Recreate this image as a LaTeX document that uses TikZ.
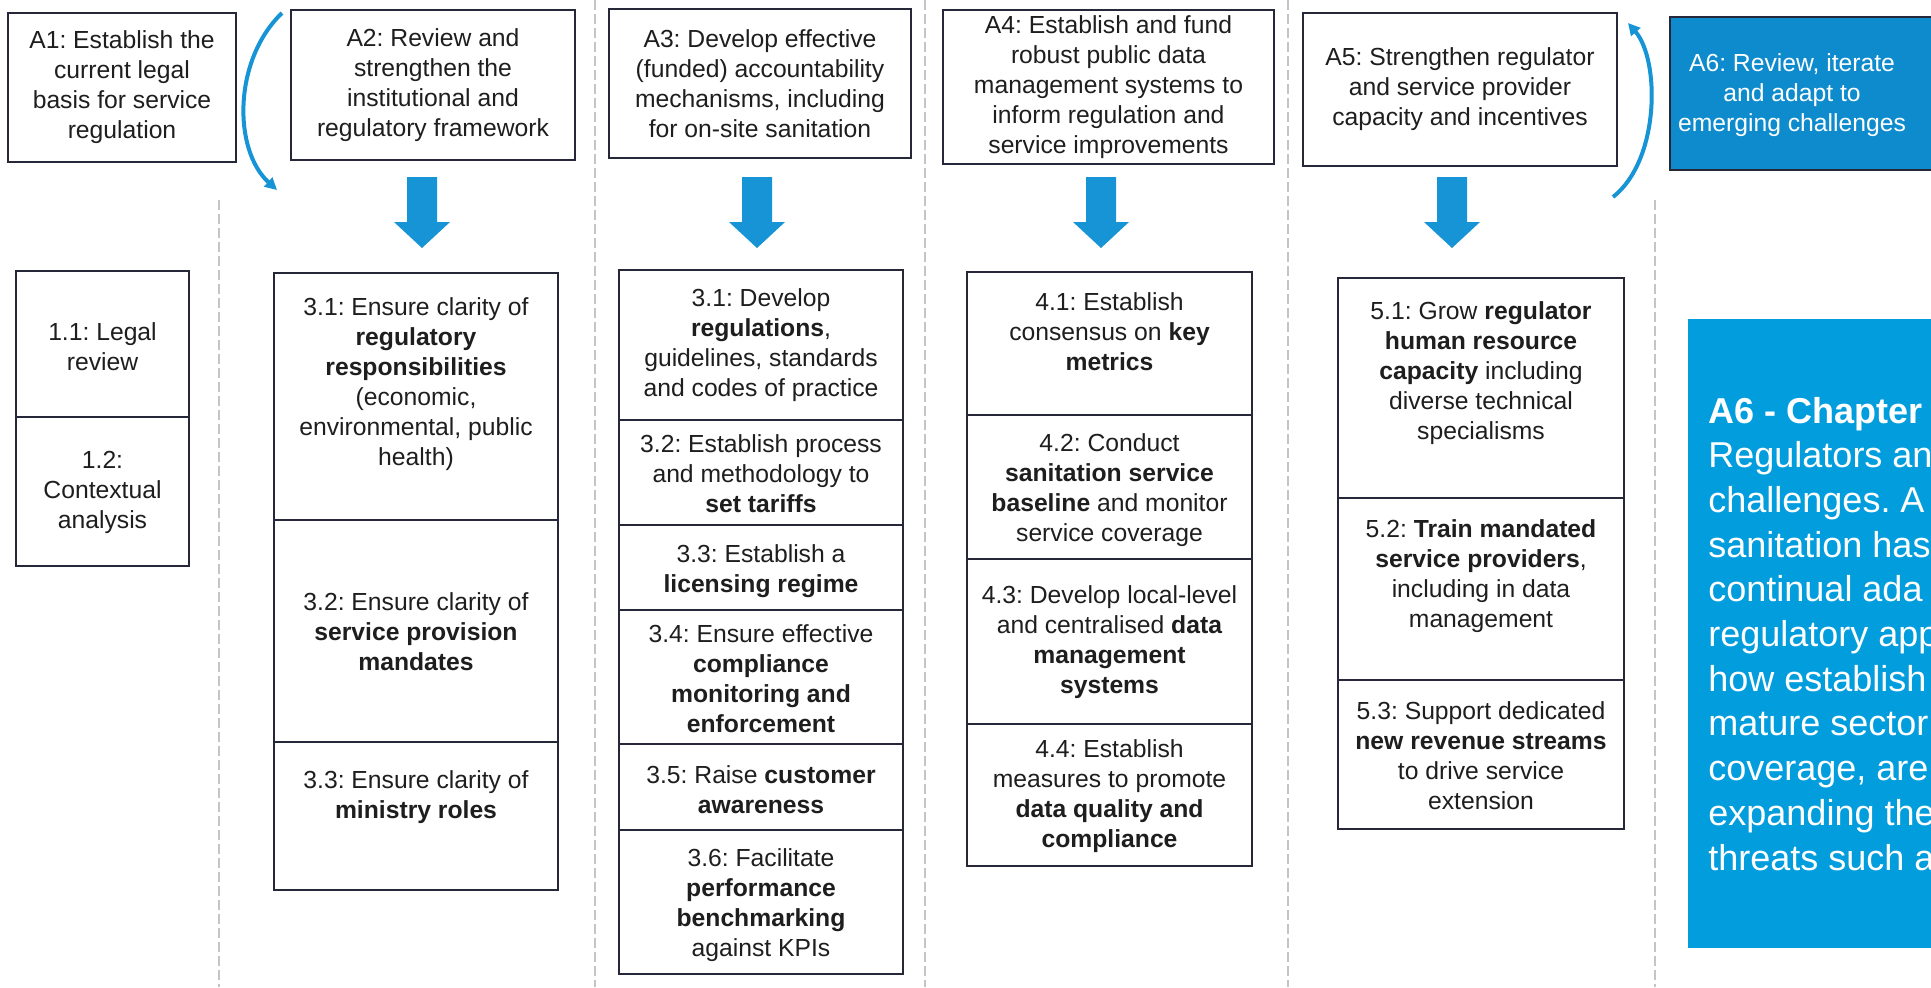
\documentclass[tikz,border=0pt]{standalone}
\usepackage{fontspec}
\setmainfont{Liberation Sans}
\usetikzlibrary{arrows.meta}
\frenchspacing

\definecolor{boxline}{HTML}{26283A}
\definecolor{txt}{HTML}{1E1E1E}
\definecolor{flowblue}{HTML}{1794D6}
\definecolor{chapblue}{HTML}{029DDD}
\definecolor{revblue}{HTML}{0E8BCD}
\definecolor{sepgray}{HTML}{C4C4C4}

\newcommand\boxfont{\fontsize{12.35}{15}\selectfont}
\newcommand\chapfont{\fontsize{18}{22.4}\selectfont}

% stage box across the top: name, x1, x2, y1, y2, text
\newcommand\topcell[6]{%
  \node[headbox, minimum width={0.5pt*(#3-#2)}, minimum height={0.5pt*(#5-#4)}]
    (#1) at ({(#2+#3)/2},{(#4+#5)/2}) {#6};}
% step cell: name, x1, x2, y1, y2, text centre y, text
\newcommand\stepcell[7]{%
  \node[cellbox, minimum width={0.5pt*(#3-#2)}, minimum height={0.5pt*(#5-#4)}]
    (#1) at ({(#2+#3)/2},{(#4+#5)/2}) {};
  \node[celltext] (#1t) at ({(#2+#3)/2},#6) {#7};}
% thick down arrow under a stage box: name, centre x
\newcommand\blockarrow[2]{%
  \coordinate (#1) at (#2,212);
  \fill[flowblue] (#2-15,177) -- (#2+15,177) -- (#2+15,222) -- (#2+28,222)
    -- (#2,248) -- (#2-28,222) -- (#2-15,222) -- cycle;}

\begin{document}
\begin{tikzpicture}[x=0.5pt,y=-0.5pt,
  cellbox/.style={draw=boxline,line width=1.3pt,inner sep=0pt,outer sep=0pt},
  celltext/.style={align=center,font=\boxfont,text=txt,inner sep=0pt},
  headbox/.style={draw=boxline,line width=1.3pt,inner sep=0pt,align=center,font=\boxfont,text=txt},
  sep/.style={draw=sepgray,line width=1pt,dash pattern=on 5pt off 2pt},
  loopline/.style={draw=flowblue,line width=2pt,-{Triangle[length=6pt,width=6pt]}},
  chapline/.style={anchor=base west,font=\chapfont,text=white,inner sep=0pt}]

\useasboundingbox (0,0) rectangle (1931,987);
\fill[white] (0,0) rectangle (1931,987);
\clip (0,0) rectangle (1931,987);

% column separators
\draw[sep] (219,200) -- (219,987);
\draw[sep] (595,0) -- (595,987);
\draw[sep] (925,0) -- (925,987);
\draw[sep] (1288,0) -- (1288,987);
\draw[sep] (1655,200) -- (1655,987);

% stages
\topcell{a1}{8}{236}{13}{162}{A1: Establish the\\current legal\\basis for service\\regulation}
\topcell{a2}{291}{575}{10}{160}{A2: Review and\\strengthen the\\institutional and\\regulatory framework}
\topcell{a3}{609}{911}{9}{158}{A3: Develop effective\\(funded) accountability\\mechanisms, including\\for on-site sanitation}
\topcell{a4}{943}{1274}{10}{164}{A4: Establish and fund\\robust public data\\management systems to\\inform regulation and\\service improvements}
\topcell{a5}{1303}{1617}{13}{166}{A5: Strengthen regulator\\and service provider\\capacity and incentives}

\node[cellbox, fill=revblue, minimum width={0.5pt*275}, minimum height={0.5pt*153}] (a6) at (1807.5,93.5) {};
\node[celltext, text=white] (a6t) at (1792,95) {A6: Review, iterate\\and adapt to\\emerging challenges};

% loop arrows
\coordinate (lt) at (282,13);
\coordinate (lb) at (277,190);
\draw[loopline] (lt) .. controls (233,60) and (233,150) .. (lb);
\coordinate (rb) at (1613,197);
\coordinate (rt) at (1628,23);
\draw[loopline] (rb) .. controls (1660,160) and (1660,60) .. (rt);

% down arrows
\blockarrow{d2}{422}
\blockarrow{d3}{757}
\blockarrow{d4}{1101}
\blockarrow{d5}{1452}

% column 1
\stepcell{c11}{16}{189}{271}{417}{347}{1.1: Legal\\review}
\stepcell{c12}{16}{189}{417}{566}{492}{1.2:\\Contextual\\analysis}

% column 2
\stepcell{c21}{274}{558}{273}{520}{384}{3.1: Ensure clarity of\\\textbf{regulatory}\\\textbf{responsibilities}\\(economic,\\environmental, public\\health)}
\stepcell{c22}{274}{558}{520}{742}{632}{3.2: Ensure clarity of\\\textbf{service provision}\\\textbf{mandates}}
\stepcell{c23}{274}{558}{742}{890}{797}{3.3: Ensure clarity of\\\textbf{ministry roles}}

% column 3
\stepcell{c31}{619}{903}{270}{420}{345}{3.1: Develop\\\textbf{regulations},\\guidelines, standards\\and codes of practice}
\stepcell{c32}{619}{903}{420}{525}{474}{3.2: Establish process\\and methodology to\\\textbf{set tariffs}}
\stepcell{c33}{619}{903}{525}{610}{571}{3.3: Establish a\\\textbf{licensing regime}}
\stepcell{c34}{619}{903}{610}{744}{679}{3.4: Ensure effective\\\textbf{compliance}\\\textbf{monitoring and}\\\textbf{enforcement}}
\stepcell{c35}{619}{903}{744}{830}{790}{3.5: Raise \textbf{customer}\\\textbf{awareness}}
\stepcell{c36}{619}{903}{830}{974}{905}{3.6: Facilitate\\\textbf{performance}\\\textbf{benchmarking}\\against KPIs}

% column 4
\stepcell{c41}{967}{1252}{272}{415}{332}{4.1: Establish\\consensus on \textbf{key}\\\textbf{metrics}}
\stepcell{c42}{967}{1252}{415}{559}{490}{4.2: Conduct\\\textbf{sanitation service}\\\textbf{baseline} and monitor\\service coverage}
\stepcell{c43}{967}{1252}{559}{724}{642}{4.3: Develop local-level\\and centralised \textbf{data}\\\textbf{management}\\\textbf{systems}}
\stepcell{c44}{967}{1252}{724}{866}{796}{4.4: Establish\\measures to promote\\\textbf{data quality and}\\\textbf{compliance}}

% column 5
\stepcell{c51}{1338}{1624}{278}{498}{373}{5.1: Grow \textbf{regulator}\\\textbf{human resource}\\\textbf{capacity} including\\diverse technical\\specialisms}
\stepcell{c52}{1338}{1624}{498}{680}{576}{5.2: \textbf{Train mandated}\\\textbf{service providers},\\including in data\\management}
\stepcell{c53}{1338}{1624}{680}{829}{756}{5.3: Support dedicated\\\textbf{new revenue streams}\\to drive service\\extension}

% chapter panel
\node[fill=chapblue, inner sep=0pt, anchor=north west, minimum width={0.5pt*260}, minimum height={0.5pt*629}] (chap) at (1688,319) {};
\foreach \t [count=\i from 0] in {{\textbf{A6 - Chapter}},{Regulators an},{challenges. A},{sanitation has},{continual ada},{regulatory app},{how establish},{mature sector},{coverage, are},{expanding the},{threats such a}}
  \node[chapline] (ch\i) at (1708,{423+44.7*\i}) {\t};

\end{tikzpicture}
\end{document}
